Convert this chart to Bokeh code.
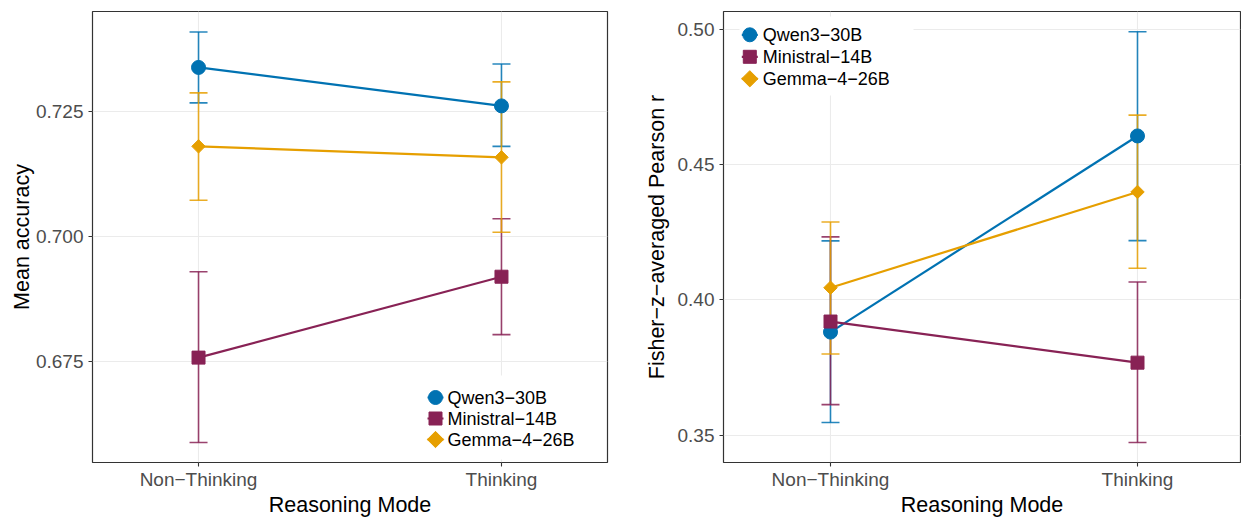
import numpy as np
from bokeh.plotting import figure
from bokeh.models import (Range1d, FixedTicker, PrintfTickFormatter, Whisker, TeeHead,
                          ColumnDataSource)
from bokeh.core.properties import value
from bokeh.layouts import row
from bokeh.embed import file_html
from bokeh.resources import INLINE

# ---------------- data ----------------
modes = ["Non\u2212Thinking", "Thinking"]
models = ["Qwen3\u221230B", "Ministral\u221214B", "Gemma\u22124\u221226B"]

# Panel 1: mean accuracy
acc_qwen = [0.7338, 0.7261]
acc_qwen_lo = [0.7267, 0.7180]
acc_qwen_hi = [0.7409, 0.7345]
acc_ministral = [0.6757, 0.6919]
acc_ministral_lo = [0.6587, 0.6803]
acc_ministral_hi = [0.6929, 0.7035]
acc_gemma = [0.7180, 0.7158]
acc_gemma_lo = [0.7072, 0.7008]
acc_gemma_hi = [0.7287, 0.7309]

# Panel 2: Fisher-z averaged Pearson r
r_qwen = [0.3881, 0.4606]
r_qwen_lo = [0.3547, 0.4219]
r_qwen_hi = [0.4218, 0.4991]
r_ministral = [0.3920, 0.3768]
r_ministral_lo = [0.3613, 0.3473]
r_ministral_hi = [0.4233, 0.4066]
r_gemma = [0.4045, 0.4399]
r_gemma_lo = [0.3800, 0.4117]
r_gemma_hi = [0.4288, 0.4683]

acc_ticks = [0.675, 0.700, 0.725]
r_ticks = [0.35, 0.40, 0.45, 0.50]

# ---------------- styles ----------------
COLORS = ["#0072B2", "#882255", "#E69F00"]
MARKERS = ["circle", "square", "square"]
SIZES = [14, 13, 9.5]
LEG_SIZES = [14, 13, 11.5]
ANGLES = [0.0, 0.0, np.pi / 4]
FONT = "Liberation Sans"
H = 519
TOP, BOTTOM = 11, 57
FRAME_H = H - TOP - BOTTOM


def make_panel(width, left, right, xr, yr, yticks, fmt, series, ytitle, title_standoff,
               leg):
    frame_w = width - left - right
    p = figure(width=width, height=H, x_range=Range1d(*xr), y_range=Range1d(*yr),
               output_backend="svg", toolbar_location=None,
               min_border_left=left, min_border_right=right,
               min_border_top=TOP, min_border_bottom=BOTTOM)
    p.extra_x_ranges = {"px": Range1d(0, frame_w)}
    p.extra_y_ranges = {"px": Range1d(0, FRAME_H)}
    p.background_fill_color = "white"
    p.border_fill_color = "white"
    p.outline_line_color = "#333333"
    p.outline_line_width = 1.2
    p.outline_line_alpha = 1

    xs = [i + 1 for i in range(len(modes))]
    p.xaxis.ticker = FixedTicker(ticks=xs)
    p.xaxis.major_label_overrides = {x: m for x, m in zip(xs, modes)}
    p.yaxis.ticker = FixedTicker(ticks=yticks)
    p.yaxis.formatter = PrintfTickFormatter(format=fmt)
    for ax in (p.xaxis, p.yaxis):
        ax.axis_line_color = None
        ax.major_tick_line_color = "#333333"
        ax.major_tick_line_width = 1.1
        ax.major_tick_out = 4
        ax.major_tick_in = 0
        ax.minor_tick_line_color = None
        ax.major_label_text_font = FONT
        ax.major_label_text_font_size = "19px"
        ax.major_label_text_color = "#4D4D4D"
        ax.axis_label_text_font = FONT
        ax.axis_label_text_font_size = "21.5px"
        ax.axis_label_text_font_style = "normal"
        ax.axis_label_text_color = "black"
    p.xaxis.major_label_standoff = 2
    p.yaxis.major_label_standoff = 5
    p.xaxis.axis_label = "Reasoning Mode"
    p.xaxis.axis_label_standoff = 0
    p.yaxis.axis_label = ytitle
    p.yaxis.axis_label_standoff = title_standoff
    for g in (p.xgrid, p.ygrid):
        g.grid_line_color = "#EBEBEB"
        g.grid_line_width = 1.1

    # error bars (under lines and points)
    srcs = []
    for (m, lo, hi), c in zip(series, COLORS):
        src = ColumnDataSource(dict(x=xs, m=m, lo=lo, hi=hi))
        srcs.append(src)
        w = Whisker(base="x", lower="lo", upper="hi", source=src, dimension="height",
                    line_color=c, line_width=1.6, line_alpha=0.85,
                    upper_head=TeeHead(size=18, line_color=c, line_width=1.6, line_alpha=0.85),
                    lower_head=TeeHead(size=18, line_color=c, line_width=1.6, line_alpha=0.85))
        p.add_layout(w)
    for src, c in zip(srcs, COLORS):
        p.line(x="x", y="m", source=src, line_color=c, line_width=2.2)
    for src, c, mk, sz, ang in zip(srcs, COLORS, MARKERS, SIZES, ANGLES):
        p.scatter(x="x", y="m", source=src, marker=mk, size=sz, angle=ang,
                  fill_color=c, line_color=c)

    # legend (key box positioned in frame pixels)
    bx0, bx1, by0, by1, kx, tx, rows = leg
    p.quad(left=[bx0], right=[bx1], bottom=[by0], top=[by1], fill_color="white",
           line_color=None, x_range_name="px", y_range_name="px")
    for i, (c, mk, sz, ang) in enumerate(zip(COLORS, MARKERS, LEG_SIZES, ANGLES)):
        p.segment(x0=[kx - 8], x1=[kx + 8], y0=[rows[i]], y1=[rows[i]], line_color=c,
                  line_width=2.2, x_range_name="px", y_range_name="px")
        p.scatter(x=[kx], y=[rows[i]], marker=mk, size=sz, angle=ang, fill_color=c,
                  line_color=c, x_range_name="px", y_range_name="px")
    lsrc = ColumnDataSource(dict(x=[tx] * len(models), y=rows, name=models))
    p.text(x="x", y="y", text="name", source=lsrc, text_font=value(FONT),
           text_font_size=value("18px"), text_color="black", text_baseline="middle",
           text_align="left", x_range_name="px", y_range_name="px")
    return p


# ---------------- left panel ----------------
W1, L1, R1 = 614, 92, 7
leg1 = (329, 494, 3, 87, 343, 355, [65, 44, 23])
p1 = make_panel(W1, L1, R1, (0.65, 2.35), (0.6547, 0.745), acc_ticks, "%.3f",
                [(acc_qwen, acc_qwen_lo, acc_qwen_hi),
                 (acc_ministral, acc_ministral_lo, acc_ministral_hi),
                 (acc_gemma, acc_gemma_lo, acc_gemma_hi)],
                "Mean accuracy", -1, leg1)

# ---------------- right panel ----------------
W2, L2, R2 = 627, 109, 1
leg2 = (16, 190, FRAME_H - 84, FRAME_H - 5, 26.3, 39.3,
        [FRAME_H - 23.3, FRAME_H - 45.3, FRAME_H - 67.3])
p2 = make_panel(W2, L2, R2, (1 - 107 / 307, 2 + 103 / 307), (0.3399, 0.5066), r_ticks, "%.2f",
                [(r_qwen, r_qwen_lo, r_qwen_hi),
                 (r_ministral, r_ministral_lo, r_ministral_hi),
                 (r_gemma, r_gemma_lo, r_gemma_hi)],
                "Fisher\u2212z\u2212averaged Pearson r", 6, leg2)

layout = row(p1, p2)
open("out.html", "w").write(file_html(layout, INLINE))
